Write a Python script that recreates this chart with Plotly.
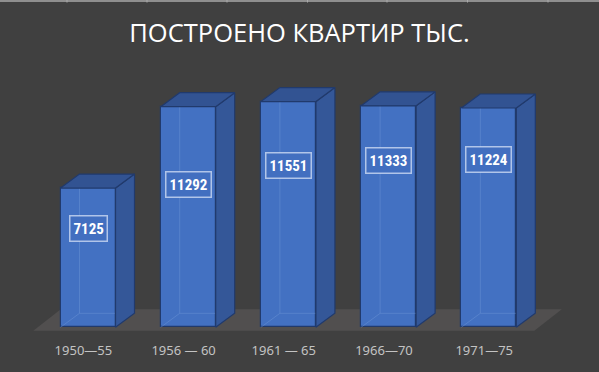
import plotly.graph_objects as go

# ---- data ----
categories = ["1950—55", "1956 — 60", "1961 — 65", "1966—70", "1971—75"]
values = [7125, 11292, 11551, 11333, 11224]
title_text = "ПОСТРОЕНО КВАРТИР ТЫС."

# ---- styling / geometry (in axis units) ----
label_frac = [0.713, 0.645, 0.719, 0.752, 0.764]  # label vertical placement as fraction of bar height
shift = 0.046          # front face centre offset from category tick
bw = 0.549             # front face width
dx, dy = 0.1896, 716   # 3-D depth offset
bg = "rgb(64,64,64)"
front_col = "rgb(67,113,194)"
side_col = "rgb(52,87,152)"
top_col = "rgb(50,83,146)"
edge_col = "rgb(33,58,108)"

xs = [i + shift for i in range(len(values))]

fig = go.Figure()

# front faces
fig.add_trace(go.Bar(
    x=xs, y=values, width=bw,
    marker=dict(color=front_col, line=dict(color=edge_col, width=1.2)),
    hoverinfo="skip", showlegend=False,
))

# back edges seen through the front
bx, by = [], []
for x, v in zip(xs, values):
    xl, xr = x - bw / 2, x + bw / 2
    bx += [xl, xl + dx, xl + dx, None, xl + dx, xr + dx, None]
    by += [0, dy, v + dy, None, dy, dy, None]
fig.add_trace(go.Scatter(x=bx, y=by, mode="lines",
                         line=dict(color="rgba(110,150,215,0.45)", width=1),
                         hoverinfo="skip", showlegend=False))

# side faces
sx, sy = [], []
for x, v in zip(xs, values):
    xr = x + bw / 2
    sx += [xr, xr + dx, xr + dx, xr, xr, None]
    sy += [0, dy, v + dy, v, 0, None]
fig.add_trace(go.Scatter(x=sx, y=sy, mode="lines", fill="toself", fillcolor=side_col,
                         line=dict(color=edge_col, width=1.2),
                         hoverinfo="skip", showlegend=False))

# top faces
tx, ty = [], []
for x, v in zip(xs, values):
    xl, xr = x - bw / 2, x + bw / 2
    tx += [xl, xl + dx, xr + dx, xr, xl, None]
    ty += [v, v + dy, v + dy, v, v, None]
fig.add_trace(go.Scatter(x=tx, y=ty, mode="lines", fill="toself", fillcolor=top_col,
                         line=dict(color=edge_col, width=1.2),
                         hoverinfo="skip", showlegend=False))

# floor
n = len(values)
fl, fr = -0.5, n - 0.5
fdx, fy0, fy1 = 0.2745, -174, 921
fig.add_shape(type="path",
              path=f"M {fl},{fy0} L {fr},{fy0} L {fr + fdx},{fy1} L {fl + fdx},{fy1} Z",
              xref="x", yref="y", fillcolor="rgb(81,79,79)", line=dict(width=0), layer="below")

# value labels
for x, v, f in zip(xs, values, label_frac):
    fig.add_annotation(x=x, y=v * f, xref="x", yref="y", text=f"<b>{v}</b>", showarrow=False,
                       font=dict(family="Liberation Sans Narrow, Roboto Condensed, DejaVu Sans Condensed, Roboto",
                                 size=15, color="white"),
                       bgcolor="rgb(66,111,192)", bordercolor="rgba(215,225,245,0.75)",
                       borderwidth=1.5, borderpad=3)

# spreadsheet gridline at top
fig.add_shape(type="line", xref="paper", yref="paper", x0=0, x1=1, y0=1 - 1 / 372, y1=1 - 1 / 372,
              line=dict(color="rgb(170,170,170)", width=1.5))
for px in [67, 147, 227, 307.5, 387, 467.5, 548]:
    fig.add_shape(type="line", xref="paper", yref="paper", x0=px / 599, x1=px / 599,
                  y0=1, y1=1 - 2.5 / 372, line=dict(color="rgb(170,170,170)", width=1))

s = 0.01954
x0px = 83.4
step = 100.2
base_px = 327.3
fig.update_layout(
    width=599, height=372,
    margin=dict(l=0, r=0, t=0, b=0),
    paper_bgcolor=bg, plot_bgcolor=bg,
    title=dict(text=title_text, x=0.5, xanchor="center", y=1 - 33 / 372, yanchor="middle",
               font=dict(family="Open Sans, Noto Sans", size=25.5, color="white")),
    xaxis=dict(range=[-x0px / step, (599 - x0px) / step],
               tickmode="array", tickvals=list(range(n)), ticktext=categories,
               showgrid=False, zeroline=False, showline=False,
               ticks="outside", ticklen=11, tickcolor="rgba(0,0,0,0)",
               tickfont=dict(family="Noto Sans, Open Sans", size=13, color="rgb(195,195,195)"),
               anchor="free", position=(372 - base_px) / 372, fixedrange=True),
    yaxis=dict(range=[-(372 - base_px) / s, base_px / s], visible=False, fixedrange=True),
    bargap=0,
)

fig.write_html("out.html", config={"displayModeBar": False},
               post_script="document.body.style.margin='0';document.body.style.overflow='hidden';")
